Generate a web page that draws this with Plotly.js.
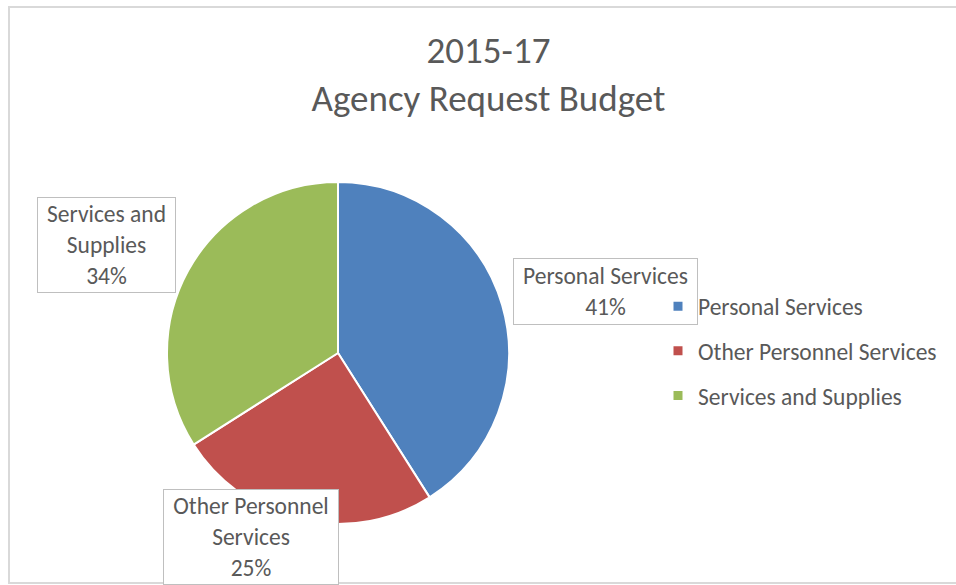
<!DOCTYPE html>
<html>
<head>
<meta charset="utf-8">
<script src="https://cdn.plot.ly/plotly-3.0.1.min.js"></script>
<style>html,body{margin:0;padding:0;background:#fff;}#chart{width:956px;height:585px;}</style>
</head>
<body>
<div id="chart"></div>
<script>
// ---- data ----
const categories = ["Personal Services", "Other Personnel Services", "Services and Supplies"];
const values = [41, 25, 34];
const colors = ["#4F81BD", "#C0504D", "#9BBB59"];
const labelLines = [["Personal Services"], ["Other Personnel", "Services"], ["Services and", "Supplies"]];
const titleLines = ["2015-17", "Agency Request Budget"];

// ---- styles ----
const FONT = "Carlito, Lato, 'Open Sans', sans-serif";
const TXT = "#595959";
const W = 956, H = 585;
const px = x => x / W;
const py = y => 1 - y / H;

const total = values.reduce((a, b) => a + b, 0);
const pct = values.map(v => Math.round(v / total * 100) + "%");

const pie = {
  type: "pie",
  labels: categories,
  values: values,
  sort: false,
  direction: "clockwise",
  rotation: 0,
  textinfo: "none",
  hoverinfo: "label+percent",
  showlegend: false,
  marker: { colors: colors, line: { color: "#ffffff", width: 2 } },
  domain: { x: [px(167), px(509)], y: [py(524), py(182)] }
};

const legendTraces = categories.map((c, i) => ({
  type: "scatter", mode: "markers", x: [null], y: [null],
  name: c, legendgroup: "g" + i,
  marker: { symbol: "square", size: 9, color: colors[i] },
  hoverinfo: "skip"
}));

// label boxes (centre x, centre y, width, height) in pixels
const boxes = [
  [605.5, 291.5, 185, 67],
  [251, 537, 176, 96],
  [106.5, 245, 139, 96]
];

const annotations = categories.map((c, i) => ({
  text: labelLines[i].concat([pct[i]]).join("<br>"),
  xref: "paper", yref: "paper",
  x: px(boxes[i][0]), y: py(boxes[i][1]),
  xanchor: "center", yanchor: "middle",
  width: boxes[i][2] - 2, height: boxes[i][3] - 2,
  showarrow: false,
  bgcolor: i === 0 ? "rgba(255,255,255,0)" : "#ffffff",
  bordercolor: "#BFBFBF", borderwidth: 1, borderpad: 0,
  font: { family: FONT, size: 23.5, color: TXT }
}));

const layout = {
  width: W, height: H,
  margin: { l: 0, r: 0, t: 0, b: 0 },
  paper_bgcolor: "#ffffff", plot_bgcolor: "#ffffff",
  title: {
    text: titleLines.join("<br>"),
    font: { family: FONT, size: 37, color: TXT },
    x: px(488.5), xanchor: "center",
    y: py(62.5), yanchor: "middle", yref: "paper"
  },
  xaxis: { visible: false }, yaxis: { visible: false },
  showlegend: true,
  legend: {
    x: px(658), xanchor: "left",
    y: py(284.5), yanchor: "top",
    font: { family: FONT, size: 23.5, color: TXT },
    tracegroupgap: 11,
    bgcolor: "rgba(0,0,0,0)"
  },
  shapes: [{
    type: "rect", xref: "paper", yref: "paper", layer: "below",
    x0: px(9), x1: 1.05, y0: py(583), y1: py(7),
    line: { color: "#D9D9D9", width: 2 }
  }],
  annotations: annotations
};

Plotly.newPlot("chart", [pie].concat(legendTraces), layout, { displayModeBar: false });
</script>
</body>
</html>
